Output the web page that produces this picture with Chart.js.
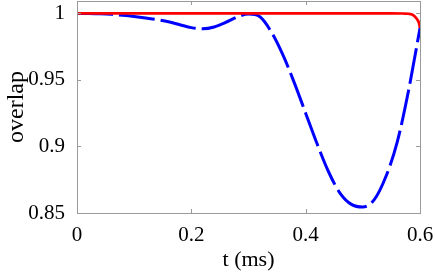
<!DOCTYPE html>
<html><head><meta charset="utf-8">
<script src="https://cdn.jsdelivr.net/npm/chart.js@4/dist/chart.umd.min.js"></script>
<style>html,body{margin:0;padding:0;background:#fff}</style>
</head><body>
<canvas id="c" width="436" height="273"></canvas>
<script>
const xTicks = [0, 0.2, 0.4, 0.6];
const yTicks = [0.85, 0.9, 0.95, 1];
const xTickLabels = ["0", "0.2", "0.4", "0.6"];
const yTickLabels = ["0.85", "0.9", "0.95", "1"];

const blueT = [0,0.02,0.04,0.06,0.08,0.10,0.12,0.14,0.16,0.18,0.20,0.22,0.24,0.26,0.28,0.30,0.32,0.34,0.36,0.38,0.40,0.42,0.44,0.46,0.48,0.50,0.52,0.54,0.56,0.58,0.60];
const blueV = [1.0,0.9999,0.9997,0.9993,0.9986,0.9977,0.9966,0.9953,0.9937,0.9915,0.9893,0.9884,0.9898,0.9932,0.9972,0.9995,0.9975,0.986,0.969,0.948,0.925,0.902,0.881,0.865,0.8565,0.8545,0.860,0.877,0.903,0.942,0.989];

const redT = [0,0.1,0.2,0.3,0.4,0.5,0.55,0.57,0.58,0.585,0.59,0.595,0.598,0.60];
const redV = [1,1,1,1,1,1,1,0.9999,0.9997,0.9993,0.998,0.9955,0.993,0.989];

const toPts = (t, v) => t.map((x, i) => ({x: x, y: v[i]}));
const FAMILY = "'Liberation Serif', 'Times New Roman', serif";
const FONT = {family: FAMILY, size: 21};
const FRAME = '#9a9a9a';

const framePlugin = {
  id: 'frame',
  afterDraw(chart) {
    const {ctx, chartArea: a, scales} = chart;
    ctx.save();
    ctx.strokeStyle = FRAME;
    ctx.lineWidth = 1;
    ctx.strokeRect(Math.round(a.left) + 0.5, Math.round(a.top) + 0.5, Math.round(a.right - a.left), Math.round(a.bottom - a.top));
    ctx.beginPath();
    xTicks.forEach(v => {
      const px = Math.round(scales.x.getPixelForValue(v)) + 0.5;
      ctx.moveTo(px, a.bottom); ctx.lineTo(px, a.bottom - 4);
      ctx.moveTo(px, a.top); ctx.lineTo(px, a.top + 4);
    });
    yTicks.forEach(v => {
      const py = Math.round(scales.y.getPixelForValue(v)) + 0.5;
      ctx.moveTo(a.left, py); ctx.lineTo(a.left + 4, py);
      ctx.moveTo(a.right, py); ctx.lineTo(a.right - 4, py);
    });
    ctx.stroke();
    ctx.restore();
  }
};

new Chart(document.getElementById('c'), {
  type: 'line',
  data: {
    datasets: [
      {data: toPts(redT, redV), borderColor: '#ff0000', borderWidth: 2.7, pointRadius: 0, fill: false, cubicInterpolationMode: 'monotone'},
      {data: toPts(blueT, blueV), borderColor: '#0000ff', borderWidth: 3, borderDash: [36, 6], pointRadius: 0, fill: false, cubicInterpolationMode: 'monotone'}
    ]
  },
  options: {
    responsive: false,
    animation: false,
    layout: {padding: {top: 1, right: 16, left: 0, bottom: 0}},
    plugins: {legend: {display: false}, tooltip: {enabled: false}},
    scales: {
      x: {
        type: 'linear', min: 0, max: 0.6,
        grid: {display: false}, border: {display: false},
        afterBuildTicks: s => { s.ticks = xTicks.map(v => ({value: v})); },
        afterFit: s => { s.height = 60; s.paddingLeft = 0; s.paddingRight = 0; },
        ticks: {font: FONT, color: '#000', padding: 2, maxRotation: 0,
          callback: (v) => xTickLabels[xTicks.findIndex(t => Math.abs(t - v) < 1e-9)]},
        title: {display: true, text: 't (ms)', font: {family: FAMILY, size: 22}, color: '#000', padding: {top: 0, bottom: 0}}
      },
      y: {
        type: 'linear', min: 0.85, max: 1.0093,
        grid: {display: false}, border: {display: false},
        afterBuildTicks: s => { s.ticks = yTicks.map(v => ({value: v})); },
        afterFit: s => { s.width = 77; s.paddingTop = 0; s.paddingBottom = 0; },
        ticks: {font: FONT, color: '#000', padding: 4,
          callback: (v) => yTickLabels[yTicks.findIndex(t => Math.abs(t - v) < 1e-9)]},
        title: {display: true, text: 'overlap', font: {family: FAMILY, size: 24}, color: '#000', padding: {top: 2, bottom: 0}}
      }
    }
  },
  plugins: [framePlugin]
});
</script>
</body></html>
